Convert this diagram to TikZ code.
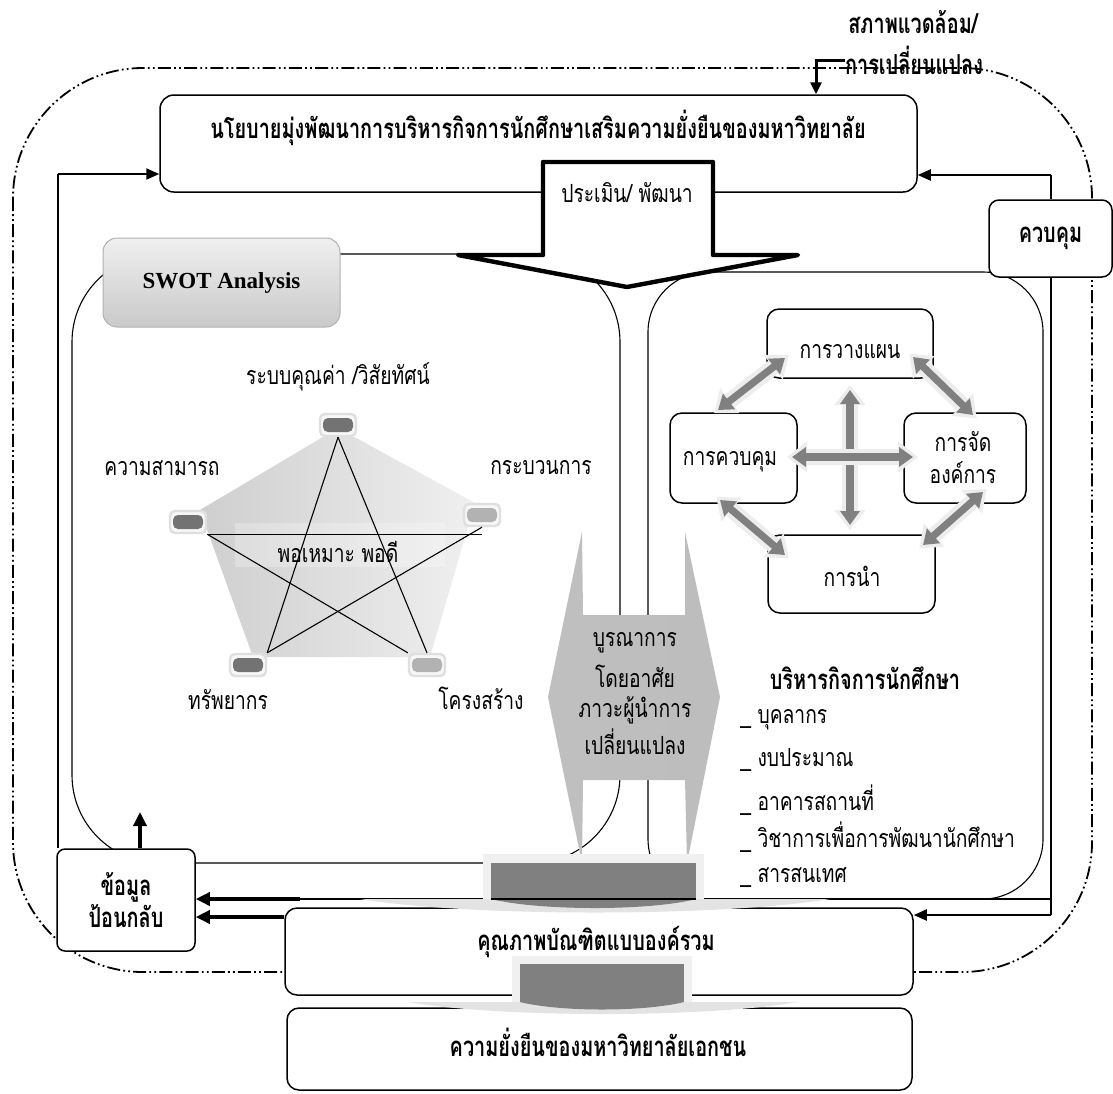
\documentclass[tikz,border=0pt]{standalone}
\usepackage{fontspec}
\setmainfont{Liberation Serif}
\newfontfamily\thaifont[Script=Thai,FakeStretch=0.77]{Loma}
\newfontfamily\thaiheadfont[Script=Thai,FakeStretch=0.72]{Loma}
\usetikzlibrary{arrows.meta}
\newcommand\thbody{\thaifont\fontsize{12.5pt}{14pt}\selectfont}
\newcommand\thhead{\thaiheadfont\bfseries\fontsize{13.8pt}{15pt}\selectfont}
\begin{document}
\begin{tikzpicture}[x=0.5pt,y=-0.5pt,
  box/.style={draw, line width=0.75pt, fill=white, inner sep=0pt},
  panel/.style={line width=0.55pt},
  envline/.style={line width=0.9pt, dash pattern=on 6.5pt off 1.6pt on 0.9pt off 1.6pt on 0.9pt off 1.6pt},
  arr/.style={line width=1pt, -{Triangle[length=6.5pt,width=5.5pt]}},
  fat/.style={line width=1.7pt, -{Triangle[length=7pt,width=6.5pt]}},
  pd/.style={line width=3.6pt, draw=gray, {Triangle[length=7pt,width=9.5pt]}-{Triangle[length=7pt,width=9.5pt]}},
  pdhalo/.style={line width=8pt, draw=gray!14, {Triangle[length=10pt,width=15pt]}-{Triangle[length=10pt,width=15pt]}, shorten <=-2.5pt, shorten >=-2.5pt},
  vtx/.style={draw=gray!25, line width=1.2pt, fill=gray!6, rounded corners=2.5pt,
    minimum width=18pt, minimum height=11pt, inner sep=0pt,
    path picture={\fill[#1] ([shift={(-7.5pt,-3.5pt)}]path picture bounding box.center) rectangle ([shift={(7.5pt,3.5pt)}]path picture bounding box.center);}},
  body/.style={font=\thbody, inner sep=1pt},
  head/.style={font=\thhead, inner sep=1pt}
]
\useasboundingbox (0,0) rectangle (1113,1093);
\fill[white] (0,0) rectangle (1113,1093);

% environment boundary
\draw[envline, rounded corners=65pt] (13,68) rectangle (1092,972);

% the two working panels
\draw[panel, rounded corners=44pt] (72,254) rectangle (620,863);
\draw[panel, rounded corners=30pt] (648,272) rectangle (1043,899);

% policy box and the evaluation arrow
\node[box, rounded corners=7pt, minimum width=378.5pt, minimum height=48.5pt] (policy) at (538.5,143.5) {};
\draw[line width=2.2pt, line join=round, fill=white]
  (543,162) -- (713,162) -- (713,255) -- (798,255) -- (627,287) -- (458,255) -- (543,255) -- cycle;

% SWOT box
\node[draw=gray!60, line width=0.5pt, rounded corners=7pt, top color=gray!12, bottom color=gray!42,
  minimum width=118.5pt, minimum height=44.5pt, inner sep=0pt,
  font=\bfseries\fontsize{11.5pt}{13pt}\selectfont] (swot) at (221.5,282.5) {SWOT Analysis};

% control, feedback and outcome boxes
\node[box, rounded corners=5pt, minimum width=61.5pt, minimum height=38.5pt, font=\thhead] (ctrl) at (1050.5,238.5) {ควบคุม};
\node[box, rounded corners=4pt, minimum width=69pt, minimum height=51pt, font=\thhead, align=center] (fbk) at (126,900) {ข้อมูล\\[1pt]ป้อนกลับ};
\node[box, rounded corners=6pt, minimum width=314pt, minimum height=43.5pt] (quality) at (599,951.5) {};
\node[box, rounded corners=6pt, minimum width=312.5pt, minimum height=41pt] (goal) at (599.5,1049) {};

% connectors
\coordinate (lft) at (58,174);
\draw[line width=1pt] (fbk.north -| lft) -- (lft);
\draw[arr] (lft) -- (lft -| policy.west);
\draw[line width=1pt] (ctrl.north) -- (ctrl.north |- 0,175);
\draw[arr] (ctrl.north |- 0,175) -- (policy.east |- 0,175);
\draw[line width=1pt] (ctrl.south) -- (ctrl.south |- 0,915);
\draw[arr] (ctrl.south |- 0,915) -- (quality.east |- 0,915);
\coordinate (fbj) at (300,899);
\draw[line width=0.6pt] (ctrl.south |- fbj) -- (fbj);
\draw[fat] (fbj) -- (fbj -| fbk.east);
\draw[fat] (quality.west |- 0,917) -- (fbk.east |- 0,917);
\draw[fat] (fbk.north -| 140,0) -- (140,812);

% environment labels and arrow
\node[head] (envA) at (913,22) {สภาพแวดล้อม/};
\node[head, inner sep=0pt] (envB) at (914,60) {การเปลี่ยนแปลง};
\draw[line width=1.5pt, -{Triangle[length=6pt,width=5.5pt]}] (envB.west) -| (policy.north -| 816,0);

% pentagon of elements
\shade[left color=gray!38, right color=gray!12] (338,428) -- (475,503) -- (430,657) -- (253,657) -- (200,510) -- cycle;
\fill[white, opacity=0.25] (235,523) rectangle (445,567);
\node[vtx=gray!110] (v1) at (338,425) {};
\node[vtx=gray!110] (v2) at (188,522) {};
\node[vtx=gray!60] (v3) at (482,515) {};
\node[vtx=gray!110] (v4) at (248,665) {};
\node[vtx=gray!60] (v5) at (427,665) {};
\draw[line width=0.55pt] (v1.south) -- (v4.north east);
\draw[line width=0.55pt] (v1.south) -- (v5.north);
\draw[line width=0.55pt] (v2.south east) -- (v2.south east -| v3.south);
\draw[line width=0.55pt] (v2.south east) -- (v5.north west);
\draw[line width=0.55pt] (v3.south) -- (v4.north east);

% management cycle
\node[box, fill=none, rounded corners=6pt, minimum width=83pt, minimum height=34.5pt] (plan) at (850,343.5) {};
\node[box, fill=none, rounded corners=6pt, minimum width=63.5pt, minimum height=45pt] (ctl) at (733.5,458) {};
\node[box, fill=none, rounded corners=6pt, minimum width=61pt, minimum height=45pt] (org) at (965,458) {};
\node[box, fill=none, rounded corners=6pt, minimum width=83.5pt, minimum height=39pt] (lead) at (851.5,574) {};
\coordinate (a1) at (718,410); \coordinate (b1) at (785,358);
\coordinate (a2) at (913,357); \coordinate (b2) at (973,415);
\coordinate (a3) at (720,500); \coordinate (b3) at (785,555);
\coordinate (a4) at (923,545); \coordinate (b4) at (983,492);
\coordinate (a5) at (850,390); \coordinate (b5) at (850,525);
\coordinate (a6) at (792,457); \coordinate (b6) at (913,457);
\foreach \p/\q in {a1/b1,a2/b2,a3/b3,a4/b4,a5/b5,a6/b6}{
  \draw[pdhalo] (\p) -- (\q);
  \draw[pd] (\p) -- (\q);
}

% integration shape
\shade[left color=gray!50, middle color=gray!8, right color=gray!52]
  (582,532) -- (583,615) -- (685,615) -- (685,532) -- (720,697) -- (687,863) -- (685,780)
  -- (583,780) -- (582,863) -- (548,697) -- cycle;

% output blocks
\fill[gray!22] (360,899) .. controls (470,917) and (720,917) .. (830,899) -- cycle;
\fill[gray!12] (483,854) rectangle (704,899);
\fill[gray] (491,863) rectangle (696,899);
\fill[gray] (491,899) .. controls (540,911) and (650,911) .. (696,899) -- cycle;
\draw[line width=0.6pt] (491,899) -- (696,899);
\fill[gray!22] (408,1002) .. controls (500,1018) and (706,1018) .. (798,1002) -- cycle;
\fill[gray!12] (512,956) rectangle (692,1002);
\fill[gray] (520,964) rectangle (684,1002);
\fill[gray] (520,1002) .. controls (560,1012) and (644,1012) .. (684,1002) -- cycle;

% texts
\node[head] (policytxt) at (538,128) {นโยบายมุ่งพัฒนาการบริหารกิจการนักศึกษาเสริมความยั่งยืนของมหาวิทยาลัย};
\node[body] (evaltxt) at (627,193) {ประเมิน/ พัฒนา};
\node[body] (vision) at (338,377) {ระบบคุณค่า /วิสัยทัศน์};
\node[body] (cap) at (162,468) {ความสามารถ};
\node[body] (proc) at (541,468) {กระบวนการ};
\node[body] (res) at (228,700) {ทรัพยากร};
\node[body] (struct) at (481,698) {โครงสร้าง};
\node[body] (fit) at (338,552) {พอเหมาะ พอดี};
\node[body] (plantxt) at (850,352) {การวางแผน};
\node[body] (ctltxt) at (730,462) {การควบคุม};
\node[body] (orgtxt1) at (963,442) {การจัด};
\node[body] (orgtxt2) at (963,473) {องค์การ};
\node[body] (leadtxt) at (852,576) {การนำ};
\node[body] (int1) at (635,643) {บูรณาการ};
\node[body] (int2) at (635,676) {โดยอาศัย};
\node[body] (int3) at (635,710) {ภาวะผู้นำการ};
\node[body] (int4) at (635,742) {เปลี่ยนแปลง};
\node[head] (admin) at (865,678) {บริหารกิจการนักศึกษา};
\node[body, anchor=west] (l1) at (738,720) {\_ บุคลากร};
\node[body, anchor=west] (l2) at (738,760) {\_ งบประมาณ};
\node[body, anchor=west] (l3) at (738,800) {\_ อาคารสถานที่};
\node[body, anchor=west] (l4) at (738,837) {\_ วิชาการเพื่อการพัฒนานักศึกษา};
\node[body, anchor=west] (l5) at (738,877) {\_ สารสนเทศ};
\node[head] (qualtxt) at (596,942) {คุณภาพบัณฑิตแบบองค์รวม};
\node[head] (goaltxt) at (598,1042) {ความยั่งยืนของมหาวิทยาลัยเอกชน};
\end{tikzpicture}
\end{document}
